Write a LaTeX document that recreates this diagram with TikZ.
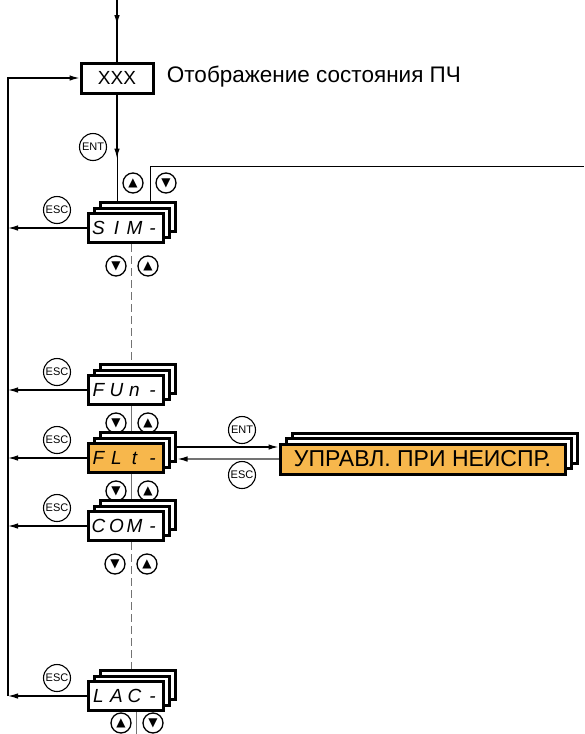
\documentclass[tikz,border=0pt]{standalone}
\usepackage{fontspec}
\setmainfont{Liberation Sans}
\setsansfont{Liberation Sans}
\newfontfamily\symfont{DejaVu Sans}
\usetikzlibrary{arrows.meta,shadows,backgrounds}
\definecolor{menuorange}{RGB}{247,183,76}
\definecolor{linkgray}{RGB}{115,115,115}
\newcommand\seg[4]{\makebox[18pt]{#1}\makebox[18pt]{#2}\makebox[18pt]{#3}\makebox[18pt]{#4}}

\begin{document}
\begin{tikzpicture}[x=1pt, y=-1pt, line width=1.2pt,
  >={Latex[length=10pt,width=5.5pt]},
  screen/.style={draw, line width=3pt, fill=white, inner sep=0pt,
    minimum width=75pt, minimum height=29pt,
    font=\itshape\fontsize{19}{19}\selectfont},
  stack/.style={screen,
    general shadow={shadow scale=1, shadow xshift=12pt, shadow yshift=11pt,
      draw, fill=white, line width=3pt},
    general shadow={shadow scale=1, shadow xshift=6pt, shadow yshift=5.5pt,
      draw, fill=white, line width=3pt}},
  key/.style={draw, circle, line width=1.1pt, minimum size=27pt, inner sep=0pt,
    font=\fontsize{11}{11}\selectfont},
  arr/.style={draw, circle, line width=1.3pt, minimum size=20pt, inner sep=0pt,
    font=\symfont\fontsize{12}{12}\selectfont},
  link/.style={linkgray, line width=1.6pt},
  dashlink/.style={link, dash pattern=on 8pt off 4pt}]
  \useasboundingbox (0,0) rectangle (584,734);

  % free ends
  \coordinate (in) at (117,0);
  \coordinate (back) at (8,696);
  \coordinate (exit) at (584,166);
  \coordinate (out) at (136.5,734);

  % screens
  \node[screen, minimum width=72pt, minimum height=30pt,
    font=\fontsize{19}{19}\selectfont] (xxx) at (117,78) {XXX};
  \node[anchor=base west, font=\fontsize{22.5}{22.5}\selectfont] (state) at (163,82)
    {Отображение состояния ПЧ};
  \node[stack] (sim) at (125.5,228) {\seg{S}{I}{M}{-}};
  \node[stack] (fun) at (125.5,390) {\seg{F}{U}{n}{-}};
  \node[stack, fill=menuorange] (flt) at (125.5,458) {\seg{F}{L}{t}{-}};
  \node[stack] (com) at (125.5,526) {\seg{C}{O}{M}{-}};
  \node[stack] (lac) at (125.5,696) {\seg{L}{A}{C}{-}};
  \node[stack, fill=menuorange, minimum width=285pt, minimum height=30pt,
    font=\fontsize{23}{23}\selectfont] (upr) at (422.5,459) {УПРАВЛ. ПРИ НЕИСПР.};

  % keys
  \node[key] (entxxx) at (93,147) {ENT};
  \node[key] (entflt) at (242,430) {ENT};
  \node[key] (escupr) at (242,475) {ESC};
  \foreach \m in {sim,fun,flt,com,lac}
    \node[key] (esc\m) at ([shift={(-68.5pt,18pt)}]\m.center) {ESC};
  \node[arr] (up0) at (133,183) {▲};
  \node[arr] (dn0) at (166,183) {▼};
  \foreach \y/\x/\i in {266/116/1, 423/116/2, 491/116/3, 564/115/4} {
    \node[arr] (dn\i) at (\x,\y) {▼};
    \node[arr] (up\i) at (\x+32,\y) {▲};
  }
  \node[arr] (up5) at (121,723) {▲};
  \node[arr] (dn5) at (153,723) {▼};

  % links behind the screens
  \begin{scope}[on background layer]
    \draw[dashlink] ([xshift=6pt]sim.south) -- ([xshift=6pt]fun.north);
    \draw[link] ([xshift=6pt]fun.south) -- ([xshift=6pt]flt.north);
    \draw[link] ([xshift=6pt]flt.south) -- ([xshift=6pt]com.north);
    \draw[dashlink] ([xshift=6pt]com.south) -- ([xshift=6pt]lac.north);
    \draw[link] ([xshift=11pt]lac.south) -- (out);
    \draw (xxx.south) -- (xxx.south |- sim.north);
    \draw ([xshift=25pt]sim.north) |- (exit);
  \end{scope}

  \draw[->] (in) -- ++(0,25);
  \draw (in) -- (xxx);
  \draw[->] (xxx.south) -- ++(0,64);
  \draw[->] (back) |- (xxx.west);
  \foreach \m in {sim,fun,flt,com,lac}
    \draw[->] (\m.west) -- (\m.west -| back);
  \draw[->] ([shift={(12pt,11pt)}]flt.east) -- ([yshift=12pt]upr.west);
  \draw[linkgray, -{Latex[length=10pt,width=5.5pt,color=black]}] (upr.west)
    -- ([xshift=13pt]flt.east |- upr.west);
\end{tikzpicture}
\end{document}
